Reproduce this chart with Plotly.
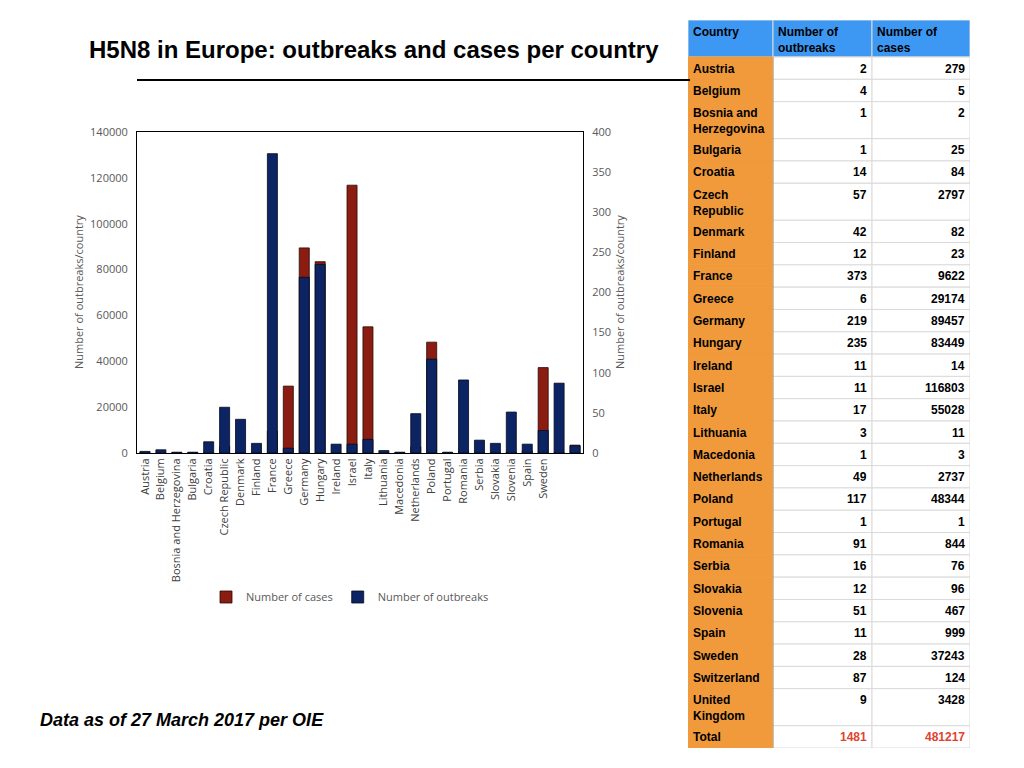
import plotly.graph_objects as go

countries = ["Austria", "Belgium", "Bosnia and Herzegovina", "Bulgaria", "Croatia",
             "Czech Republic", "Denmark", "Finland", "France", "Greece", "Germany",
             "Hungary", "Ireland", "Israel", "Italy", "Lithuania", "Macedonia",
             "Netherlands", "Poland", "Portugal", "Romania", "Serbia", "Slovakia",
             "Slovenia", "Spain", "Sweden", "Switzerland", "United Kingdom"]
outbreaks = [2, 4, 1, 1, 14, 57, 42, 12, 373, 6, 219, 235, 11, 11, 17, 3, 1,
             49, 117, 1, 91, 16, 12, 51, 11, 28, 87, 9]
cases = [279, 5, 2, 25, 84, 2797, 82, 23, 9622, 29174, 89457, 83449, 14, 116803,
         55028, 11, 3, 2737, 48344, 1, 844, 76, 96, 467, 999, 37243, 124, 3428]

# the last two bars have no label in the original slide
tick_labels = countries[:26] + ["", ""]

# names as they are wrapped in the table
table_names = ["Austria", "Belgium", "Bosnia and<br>Herzegovina", "Bulgaria", "Croatia",
               "Czech<br>Republic", "Denmark", "Finland", "France", "Greece", "Germany",
               "Hungary", "Ireland", "Israel", "Italy", "Lithuania", "Macedonia",
               "Netherlands", "Poland", "Portugal", "Romania", "Serbia", "Slovakia",
               "Slovenia", "Spain", "Sweden", "Switzerland", "United<br>Kingdom"]
table_header = ["Country", "Number of<br>outbreaks", "Number of<br>cases"]

left_ticks = [0, 20000, 40000, 60000, 80000, 100000, 120000, 140000]
right_ticks = [0, 50, 100, 150, 200, 250, 300, 350, 400]

# figure sits inside the page body (8px margin)
FW, FH = 1008, 752
RED = "#8a1c12"
NAVY = "#0c2463"
GREY = "#595959"
ORANGE = "#f09a3c"
BLUE = "#3d98f3"
LINE = "#dadada"


def px(x):
    return (x - 8) / FW


def py(y):
    return 1 - (y - 8) / FH


fig = go.Figure()

fig.add_trace(go.Bar(x=countries, y=cases, name="Number of cases", width=0.63,
                     marker=dict(color=RED, line=dict(color="#2a0a05", width=0.8)),
                     xaxis="x", yaxis="y"))
fig.add_trace(go.Bar(x=countries, y=outbreaks, name="Number of outbreaks", width=0.63,
                     marker=dict(color=NAVY, line=dict(color="#050a1a", width=0.8)),
                     xaxis="x", yaxis="y2"))

# ---- table, drawn on its own hidden axes (units = pixels of the slide)
col_edges = [0, 85, 184, 282]
rows = [[f"<b>{h}</b>" for h in table_header]]
for name, o, c in zip(table_names, outbreaks, cases):
    rows.append([f"<b>{name}</b>", f"<b>{o}</b>", f"<b>{c}</b>"])
rows.append(["<b>Total</b>", f"<b>{sum(outbreaks)}</b>", f"<b>{sum(cases)}</b>"])

row_h = [37 if "<br>" in "".join(r) else 22.3 for r in rows]
tops = [0]
for h in row_h:
    tops.append(tops[-1] + h)

for i, r in enumerate(rows):
    y0, y1 = tops[i], tops[i + 1]
    for j in range(3):
        x0, x1 = col_edges[j], col_edges[j + 1]
        if i == 0:
            fill, lc = BLUE, LINE
        elif j == 0:
            fill, lc = ORANGE, ORANGE
        else:
            fill, lc = "white", LINE
        fig.add_shape(type="rect", xref="x3", yref="y3", x0=x0, x1=x1, y0=y0, y1=y1,
                      fillcolor=fill, line=dict(color=lc, width=1))
        if i == 0 or j == 0:
            xa, xt = "left", x0 + 3
        else:
            xa, xt = "right", x1 - 3
        colr = "#e0432f" if (i == len(rows) - 1 and j > 0) else "black"
        fig.add_annotation(text=r[j], xref="x3", yref="y3", x=xt, y=y0 + 2.5,
                           xanchor=xa, yanchor="top", align=xa, showarrow=False,
                           font=dict(family="Liberation Sans", size=12, color=colr))

fig.add_shape(type="line", xref="x3", yref="y3", x0=85, x1=85, y0=tops[1], y1=tops[-1],
              line=dict(color="#c48a48", width=1))

fig.update_layout(
    width=FW, height=FH,
    margin=dict(l=0, r=0, t=0, b=0),
    paper_bgcolor="white", plot_bgcolor="white",
    barmode="overlay",
    showlegend=True,
    legend=dict(orientation="h", x=px(350), y=py(597), xanchor="center", yanchor="middle",
                font=dict(family="Open Sans", size=11, color=GREY),
                itemwidth=30, traceorder="normal"),
    xaxis=dict(domain=[px(137), px(583)], tickmode="array", tickvals=countries,
               ticktext=tick_labels, tickangle=-90, showline=True, mirror=True,
               linecolor="black", linewidth=1, showgrid=False, ticks="",
               tickfont=dict(family="Open Sans", size=11, color="#404040"),
               automargin=False, fixedrange=True),
    yaxis=dict(domain=[py(453), py(132)], range=[0, 140000], tickvals=left_ticks,
               tickformat="d",
               showline=True, linecolor="black", linewidth=1, showgrid=False,
               zeroline=False, ticks="", ticklabelstandoff=6,
               tickfont=dict(family="Open Sans", size=11, color=GREY),
               automargin=False),
    yaxis2=dict(overlaying="y", side="right", range=[0, 400], tickvals=right_ticks,
                showline=True, linecolor="black", linewidth=1, showgrid=False,
                zeroline=False, ticks="", ticklabelstandoff=6,
                tickfont=dict(family="Open Sans", size=11, color=GREY),
                automargin=False),
    xaxis3=dict(domain=[px(688), px(970)], range=[0, 282], visible=False,
                fixedrange=True, anchor="y3"),
    yaxis3=dict(domain=[py(748), py(20)], range=[tops[-1], 0], visible=False,
                fixedrange=True, anchor="x3"),
)

fig.add_annotation(text="<b>H5N8 in Europe: outbreaks and cases per country</b>",
                   x=px(87), y=py(50), xref="paper", yref="paper",
                   xanchor="left", yanchor="middle", showarrow=False,
                   font=dict(family="Liberation Sans", size=24, color="black"))
fig.add_annotation(text="<b><i>Data as of 27 March 2017 per OIE</i></b>",
                   x=px(38), y=py(720), xref="paper", yref="paper",
                   xanchor="left", yanchor="middle", showarrow=False,
                   font=dict(family="Liberation Sans", size=18, color="black"))
for xx in (78, 619):
    fig.add_annotation(text="Number of outbreaks/country", textangle=-90,
                       x=px(xx), y=py(292), xref="paper", yref="paper",
                       xanchor="center", yanchor="middle", showarrow=False,
                       font=dict(family="Open Sans", size=11, color=GREY))

fig.add_shape(type="line", xref="paper", yref="paper",
              x0=px(137), x1=px(690), y0=py(80), y1=py(80),
              line=dict(color="black", width=2))

fig.write_html("out.html")
